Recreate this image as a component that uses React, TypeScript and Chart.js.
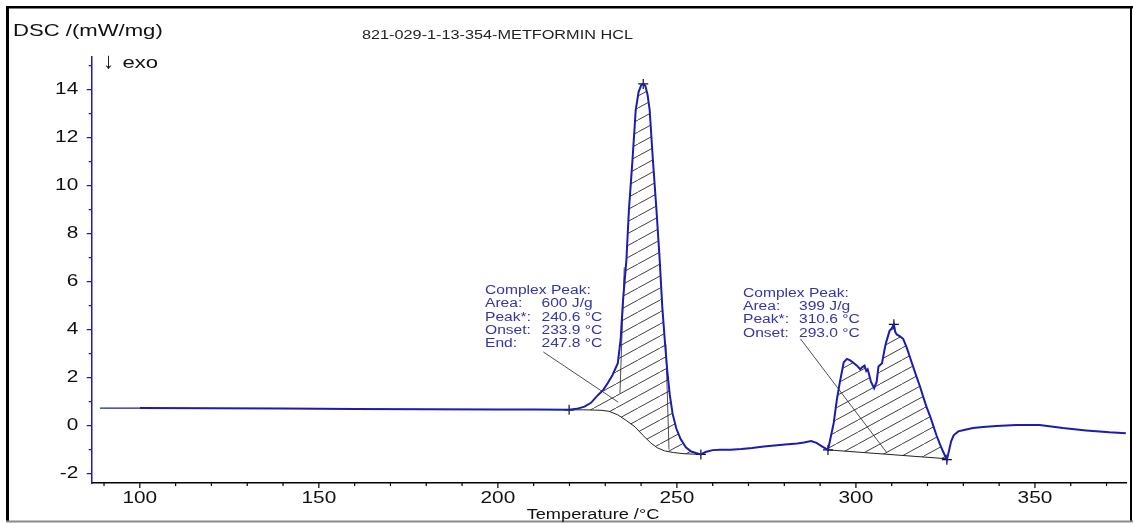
import React, { useEffect, useRef } from "react";
import { Chart, registerables } from "chart.js";

Chart.register(...registerables);

// DSC trace: temperature (°C) and heat flow (mW/mg), exo down
const temperature = [
  88.9, 100, 120, 140, 160, 180, 200, 210, 219.9, 222.0, 224.2, 226.0, 228.0, 229.5, 230.7, 232.0,
  233.5, 234.3, 234.9, 235.4, 235.9, 236.6, 237.6, 238.5, 239.3, 240.0, 240.6, 241.2, 241.8, 242.4,
  243.3, 244.3, 245.2, 245.9, 246.6, 247.3, 248.0, 248.8, 249.8, 251.0, 252.5, 254.0, 255.5, 256.7,
  258.0, 260.0, 262.0, 265.0, 268.0, 271.0, 274.3, 278.0, 281.0, 283.6, 285.5, 287.5, 289.0, 290.5,
  291.5, 292.2, 293.0, 293.8, 294.7, 295.5, 296.6, 297.5, 298.4, 299.3, 300.3, 301.2, 301.8, 302.4,
  302.9, 303.3, 304.2, 305.1, 305.8, 306.3, 307.3, 307.9, 308.4, 309.4, 310.0, 310.6, 311.0, 311.4,
  312.3, 313.2, 314.2, 315.1, 316.0, 316.9, 317.9, 318.8, 319.7, 320.7, 321.6, 322.5, 323.4, 324.4,
  325.4, 326.0, 326.6, 327.3, 328.6, 330.5, 332.7, 335.5, 339.2, 344.8, 351.3, 357.8, 364.3, 370.8,
  375.4,
];
const dsc = [
  0.73, 0.73, 0.72, 0.71, 0.69, 0.68, 0.67, 0.67, 0.66, 0.70, 0.79, 0.95, 1.28, 1.50, 1.78, 2.10,
  2.60, 3.60, 5.10, 6.00, 6.90, 8.98, 11.07, 13.15, 13.90, 14.18, 14.24, 14.15, 13.80, 13.15,
  11.07, 8.98, 6.90, 5.00, 3.60, 2.30, 1.30, 0.50, -0.10, -0.55, -0.90, -1.08, -1.15, -1.20,
  -1.10, -1.02, -1.00, -1.00, -0.97, -0.93, -0.87, -0.82, -0.78, -0.74, -0.70, -0.64, -0.72, -0.86,
  -0.95, -1.01, -0.45, 0.11, 1.10, 1.80, 2.64, 2.78, 2.72, 2.62, 2.50, 2.35, 2.44, 2.50,
  2.28, 2.35, 1.83, 1.56, 1.83, 2.46, 2.60, 3.10, 3.45, 3.95, 4.05, 4.22, 3.90, 3.80,
  3.72, 3.62, 3.25, 2.85, 2.45, 2.05, 1.63, 1.20, 0.79, 0.40, 0.00, -0.40, -0.75, -1.10,
  -1.42, -1.05, -0.65, -0.40, -0.24, -0.17, -0.10, -0.06, -0.01, 0.03, 0.03, -0.10, -0.20, -0.28,
  -0.32,
];

// Integration baselines of the two complex peaks
const base1T = [219.9, 224.0, 228.8, 231.0, 233.5, 236.0, 238.3, 240.5, 242.7, 244.5, 246.5, 249.0, 252.0, 256.7];
const base1V = [0.66, 0.66, 0.64, 0.6, 0.45, 0.2, -0.05, -0.4, -0.72, -0.92, -1.05, -1.12, -1.17, -1.2];
const base2T = [292.2, 325.4];
const base2V = [-1.01, -1.38];

// Integration limits and peak maxima
const markerT = [219.9, 240.6, 256.7, 292.2, 310.6, 325.4];
const markerV = [0.66, 14.24, -1.2, -1.01, 4.22, -1.42];

// Onset / end tangents of the first peak and the label pointer lines
const tangentOnsetT = [234.1, 235.3];
const tangentOnsetV = [1.35, 6.6];
const tangentEndT = [247.8, 246.9];
const tangentEndV = [-1.0, 3.4];
const pointer1T = [212.7, 233.6];
const pointer1V = [3.07, 0.98];
const pointer2T = [284.5, 308.6];
const pointer2V = [3.62, -1.12];

const xTickLabels = [100, 150, 200, 250, 300, 350];
const yTickLabels = [-2, 0, 2, 4, 6, 8, 10, 12, 14];
const xMinorStep = 10;
const yMinorStep = 1;
const xRange = [86.56, 375.66];
const yRange = [-2.39, 15.36];

const peak1Labels = ["Area:", "Peak*:", "Onset:", "End:"];
const peak1Values = ["600 J/g", "240.6 °C", "233.9 °C", "247.8 °C"];
const peak2Labels = ["Area:", "Peak*:", "Onset:"];
const peak2Values = ["399 J/g", "310.6 °C", "293.0 °C"];

const titleText = "821-029-1-13-354-METFORMIN HCL";
const yAxisTitle = "DSC /(mW/mg)";
const xAxisTitle = "Temperature /°C";

const FONT = '"Liberation Sans", Arial, Helvetica, sans-serif';
const SX = 1.3; // horizontal stretch of all lettering
const CURVE = "#1c1cae";
const NOTE = "#3535a8";

const pts = (xs: number[], ys: number[]) => xs.map((x, i) => ({ x, y: ys[i] }));

function drawText(
  ctx: CanvasRenderingContext2D,
  text: string,
  x: number,
  y: number,
  size: number,
  align: "left" | "center" | "right",
  color: string,
  sx: number = SX
) {
  ctx.save();
  ctx.font = `${size}px ${FONT}`;
  ctx.fillStyle = color;
  ctx.textBaseline = "middle";
  ctx.textAlign = "left";
  const w = ctx.measureText(text).width * sx;
  const x0 = align === "left" ? x : align === "right" ? x - w : x - w / 2;
  ctx.translate(x0, y);
  ctx.scale(sx, 1);
  ctx.fillText(text, 0, 0);
  ctx.restore();
}

function makeHatch(): CanvasPattern | string {
  const c = document.createElement("canvas");
  c.width = 22;
  c.height = 12;
  const g = c.getContext("2d");
  if (!g) return "rgba(0,0,0,0.2)";
  g.strokeStyle = "#2a2a2a";
  g.lineWidth = 0.9;
  g.beginPath();
  for (const dx of [-22, 0, 22]) {
    g.moveTo(dx, 12);
    g.lineTo(dx + 22, 0);
  }
  g.stroke();
  return g.createPattern(c, "repeat") || "rgba(0,0,0,0.2)";
}

const decor = {
  id: "decor",
  afterDraw(chart: any) {
    const ctx: CanvasRenderingContext2D = chart.ctx;
    const xs = chart.scales.x;
    const ys = chart.scales.y;
    const area = chart.chartArea;

    // frame
    ctx.save();
    ctx.fillStyle = "#000";
    ctx.fillRect(6, 6, 3, 515);
    ctx.fillRect(6, 6, 1127, 2.5);
    ctx.fillRect(1130, 6, 2, 515);
    ctx.fillStyle = "#8a8a8a";
    ctx.fillRect(6, 520.5, 1127, 2);
    ctx.restore();

    // x ticks
    ctx.save();
    ctx.strokeStyle = "#000";
    ctx.lineWidth = 1.2;
    ctx.beginPath();
    for (let t = Math.ceil(xRange[0] / xMinorStep) * xMinorStep; t <= xRange[1]; t += xMinorStep) {
      const px = xs.getPixelForValue(t);
      const len = xTickLabels.includes(t) ? 5 : 3;
      ctx.moveTo(px, area.bottom);
      ctx.lineTo(px, area.bottom + len);
    }
    ctx.stroke();
    ctx.restore();
    for (const t of xTickLabels) {
      drawText(ctx, String(t), xs.getPixelForValue(t), area.bottom + 16, 16, "center", "#111");
    }

    // y ticks
    ctx.save();
    ctx.strokeStyle = CURVE;
    ctx.lineWidth = 1.2;
    ctx.beginPath();
    for (let v = Math.ceil(yRange[0]); v <= yRange[1]; v += yMinorStep) {
      const py = ys.getPixelForValue(v);
      const len = yTickLabels.includes(v) ? 5 : 3;
      ctx.moveTo(area.left, py);
      ctx.lineTo(area.left - len, py);
    }
    ctx.stroke();
    ctx.restore();
    for (const v of yTickLabels) {
      drawText(ctx, String(v), area.left - 13.5, ys.getPixelForValue(v), 16, "right", "#111");
    }

    // titles
    drawText(ctx, yAxisTitle, 13, 31, 17, "left", "#111");
    drawText(ctx, titleText, 362, 36, 12.5, "left", "#222");
    drawText(ctx, "↓", 103, 62, 22, "left", "#111", 1);
    drawText(ctx, "exo", 122.5, 63, 17, "left", "#111");
    drawText(ctx, xAxisTitle, 593, 515, 14, "center", "#111");

    // peak annotations
    const step = 13.3;
    drawText(ctx, "Complex Peak:", 485, 290.7, 12, "left", NOTE);
    peak1Labels.forEach((s, i) => {
      drawText(ctx, s, 485, 290.7 + step * (i + 1), 12, "left", NOTE);
      drawText(ctx, peak1Values[i], 541.5, 290.7 + step * (i + 1), 12, "left", NOTE);
    });
    drawText(ctx, "Complex Peak:", 743, 293.3, 12, "left", NOTE);
    peak2Labels.forEach((s, i) => {
      drawText(ctx, s, 743, 293.3 + step * (i + 1), 12, "left", NOTE);
      drawText(ctx, peak2Values[i], 799, 293.3 + step * (i + 1), 12, "left", NOTE);
    });
  },
};

export default function App() {
  const ref = useRef<HTMLCanvasElement>(null);

  useEffect(() => {
    document.body.style.margin = "0";
    const canvas = ref.current;
    if (!canvas) return;
    const hatch = makeHatch();
    const curve = pts(temperature, dsc);
    const span = (a: number, b: number) => curve.filter((p) => p.x >= a && p.x <= b);
    const thin = { pointRadius: 0, borderColor: "#222", borderWidth: 0.8, fill: false };

    const chart = new Chart(canvas, {
      type: "line",
      data: {
        datasets: [
          {
            label: "DSC",
            data: curve,
            borderColor: CURVE,
            borderWidth: 2,
            pointRadius: 0,
            fill: false,
            segment: { borderWidth: (c: any) => (c.p0.parsed.x < 99 ? 1.2 : 2) },
          },
          {
            label: "limits",
            data: pts(markerT, markerV),
            showLine: false,
            pointStyle: "cross",
            pointRadius: 5,
            borderColor: "#111",
            borderWidth: 1.2,
          },
          { label: "tangent onset", data: pts(tangentOnsetT, tangentOnsetV), ...thin },
          { label: "tangent end", data: pts(tangentEndT, tangentEndV), ...thin },
          { label: "pointer 1", data: pts(pointer1T, pointer1V), ...thin },
          { label: "pointer 2", data: pts(pointer2T, pointer2V), ...thin },
          {
            label: "area 1",
            data: span(base1T[0], base1T[base1T.length - 1]),
            borderWidth: 0,
            pointRadius: 0,
            backgroundColor: hatch as any,
            fill: "+1",
          },
          { label: "baseline 1", data: pts(base1T, base1V), ...thin, borderWidth: 1 },
          {
            label: "area 2",
            data: span(base2T[0], base2T[base2T.length - 1]),
            borderWidth: 0,
            pointRadius: 0,
            backgroundColor: hatch as any,
            fill: "+1",
          },
          { label: "baseline 2", data: pts(base2T, base2V), ...thin, borderWidth: 1 },
        ],
      },
      options: {
        animation: false,
        responsive: false,
        devicePixelRatio: 1,
        layout: { padding: { top: 57, right: 2, left: 0, bottom: 0 } },
        plugins: { legend: { display: false }, tooltip: { enabled: false } },
        scales: {
          x: {
            type: "linear",
            min: xRange[0],
            max: xRange[1],
            grid: { display: false, drawTicks: false },
            border: { display: true, color: "#000", width: 1.5 },
            ticks: { display: false },
            afterFit: (s: any) => {
              s.height = 41;
            },
          },
          y: {
            type: "linear",
            min: yRange[0],
            max: yRange[1],
            grid: { display: false, drawTicks: false },
            border: { display: true, color: CURVE, width: 1.5 },
            ticks: { display: false },
            afterFit: (s: any) => {
              s.width = 91.7;
            },
          },
        },
      } as any,
      plugins: [decor],
    });
    return () => chart.destroy();
  }, []);

  return <canvas ref={ref} width={1133} height={524} style={{ display: "block" }} />;
}
